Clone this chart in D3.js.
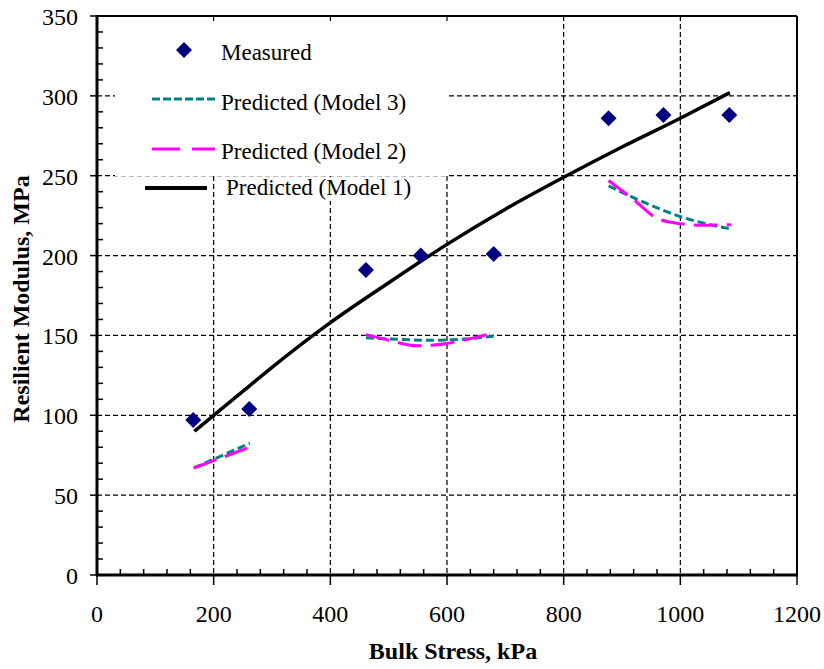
<!DOCTYPE html>
<html><head><meta charset="utf-8">
<script src="https://cdn.jsdelivr.net/npm/d3@7"></script>
<style>body{margin:0;background:#fff}svg{display:block}text{font-family:"Liberation Serif","Times New Roman",serif}</style>
</head><body>
<svg id="c" width="824" height="669"></svg>
<script>
// ---- data ----
const measuredX = [165, 261, 461, 555, 680, 877, 971, 1084];
const measuredY = [97, 104, 191, 200, 201, 286, 288, 288];

const model1X = [167, 200, 260, 300, 400, 500, 600, 700, 800, 900, 1000, 1085];
const model1Y = [90, 100, 118, 130, 158, 183, 207, 229, 249, 268, 286, 302];

// Model 3 (three load groups)
const model3Seg1X = [166, 262];
const model3Seg1Y = [67, 82.5];
const model3Seg2X = [461, 520, 570, 620, 680];
const model3Seg2Y = [148.5, 147.5, 147, 147.5, 149.5];
const model3Seg3X = [877, 948, 1000, 1087];
const model3Seg3Y = [243.6, 231.7, 224.4, 216.6];

// Model 2
const model2Seg1X = [166, 262];
const model2Seg1Y = [67, 80];
const model2Seg2X = [461, 500, 550, 600, 640, 680];
const model2Seg2Y = [150.5, 147, 143.5, 145, 148, 151.5];
const model2Seg3X = [877, 920, 962, 1000, 1040, 1087];
const model2Seg3Y = [247, 235, 223, 220, 219, 219.3];

const xTicks = [0, 200, 400, 600, 800, 1000, 1200];
const yTicks = [0, 50, 100, 150, 200, 250, 300, 350];
const legendLabels = ["Measured", "Predicted (Model 3)", "Predicted (Model 2)", "Predicted (Model 1)"];
const xTitle = "Bulk Stress, kPa";
const yTitle = "Resilient Modulus, MPa";

// ---- chart ----
const svg = d3.select("#c");
const x = d3.scaleLinear().domain([0, 1200]).range([97, 797]);
const y = d3.scaleLinear().domain([0, 350]).range([575, 16]);

const zip = (xs, ys) => xs.map((v, i) => [v, ys[i]]);
const line = d3.line().x(d => x(d[0])).y(d => y(d[1])).curve(d3.curveMonotoneX);

const grid = svg.append("g");
grid.selectAll("line.h").data(yTicks.filter(t => t > 0 && t < 350)).join("line")
  .attr("x1", x(0)).attr("x2", x(1200)).attr("y1", d => y(d)).attr("y2", d => y(d))
  .attr("stroke", "#000").attr("stroke-width", 1.2).attr("stroke-dasharray", "5,3");
grid.selectAll("line.v").data(xTicks.filter(t => t > 0 && t < 1200)).join("line")
  .attr("x1", d => x(d)).attr("x2", d => x(d)).attr("y1", y(350)).attr("y2", y(0))
  .attr("stroke", "#000").attr("stroke-width", 1.2).attr("stroke-dasharray", "5,3");

// legend background (covers gridlines)
svg.append("rect").attr("x", 115).attr("y", 22).attr("width", 333).attr("height", 154).attr("fill", "#fff");
svg.append("rect").attr("x", 215).attr("y", 177).attr("width", 205).attr("height", 24).attr("fill", "#fff");

// frame top/right
svg.append("line").attr("x1", x(0)).attr("x2", x(1200)).attr("y1", y(350)).attr("y2", y(350))
  .attr("stroke", "#000").attr("stroke-width", 2);
svg.append("line").attr("x1", x(1200)).attr("x2", x(1200)).attr("y1", y(350)).attr("y2", y(0))
  .attr("stroke", "#000").attr("stroke-width", 2);

// series lines
const teal = "#008080", magenta = "#ff00ff", navy = "#000080";
const m3 = [zip(model3Seg1X, model3Seg1Y), zip(model3Seg2X, model3Seg2Y), zip(model3Seg3X, model3Seg3Y)];
const m2 = [zip(model2Seg1X, model2Seg1Y), zip(model2Seg2X, model2Seg2Y), zip(model2Seg3X, model2Seg3Y)];
svg.append("g").selectAll("path").data(m3).join("path").attr("d", line)
  .attr("fill", "none").attr("stroke", teal).attr("stroke-width", 3).attr("stroke-dasharray", "8,4");
svg.append("g").selectAll("path").data(m2).join("path").attr("d", line)
  .attr("fill", "none").attr("stroke", magenta).attr("stroke-width", 3).attr("stroke-dasharray", "24,9");
svg.append("path").datum(zip(model1X, model1Y)).attr("d", line)
  .attr("fill", "none").attr("stroke", "#000").attr("stroke-width", 3.5);

// measured diamonds
const dia = (cx, cy, r) => `M${cx},${cy - r}L${cx + r},${cy}L${cx},${cy + r}L${cx - r},${cy}Z`;
svg.append("g").selectAll("path").data(zip(measuredX, measuredY)).join("path")
  .attr("d", d => dia(x(d[0]), y(d[1]), 8)).attr("fill", navy);

// axes
const xAxis = svg.append("g").attr("transform", `translate(0,${y(0)})`);
xAxis.append("line").attr("x1", x(0) - 1).attr("x2", x(1200) + 1).attr("stroke", "#000").attr("stroke-width", 3);
xAxis.selectAll("line.maj").data(xTicks).join("line").attr("class", "maj")
  .attr("x1", d => x(d)).attr("x2", d => x(d)).attr("y1", 0).attr("y2", 10)
  .attr("stroke", "#000").attr("stroke-width", 1.5);
xAxis.selectAll("line.min").data(d3.range(0, 1200, 40).filter(v => v % 200 !== 0)).join("line").attr("class", "min")
  .attr("x1", d => x(d)).attr("x2", d => x(d)).attr("y1", 0).attr("y2", -6)
  .attr("stroke", "#000").attr("stroke-width", 1.5);
xAxis.selectAll("text").data(xTicks).join("text")
  .attr("x", d => x(d)).attr("y", 47).attr("text-anchor", "middle")
  .attr("font-size", 24).text(d => d);

const yAxis = svg.append("g").attr("transform", `translate(${x(0)},0)`);
yAxis.append("line").attr("y1", y(0) + 1).attr("y2", y(350) - 1).attr("stroke", "#000").attr("stroke-width", 3);
yAxis.selectAll("line.maj").data(yTicks).join("line").attr("class", "maj")
  .attr("y1", d => y(d)).attr("y2", d => y(d)).attr("x1", 0).attr("x2", -7)
  .attr("stroke", "#000").attr("stroke-width", 1.5);
yAxis.selectAll("line.min").data(d3.range(0, 350, 10).filter(v => v % 50 !== 0)).join("line").attr("class", "min")
  .attr("y1", d => y(d)).attr("y2", d => y(d)).attr("x1", 0).attr("x2", 6)
  .attr("stroke", "#000").attr("stroke-width", 1.5);
yAxis.selectAll("text").data(yTicks).join("text")
  .attr("x", -19).attr("y", d => y(d) + 9).attr("text-anchor", "end")
  .attr("font-size", 24).text(d => d);

// titles
svg.append("text").attr("x", 453).attr("y", 659).attr("text-anchor", "middle")
  .attr("font-size", 24).attr("font-weight", "bold").text(xTitle);
svg.append("text").attr("transform", "translate(29,299) rotate(-90)").attr("text-anchor", "middle")
  .attr("font-size", 24).attr("font-weight", "bold").text(yTitle);

// legend
const lg = svg.append("g");
lg.append("path").attr("d", dia(184, 50, 8)).attr("fill", navy);
lg.append("line").attr("x1", 152).attr("x2", 216).attr("y1", 99).attr("y2", 99)
  .attr("stroke", teal).attr("stroke-width", 3).attr("stroke-dasharray", "8,3");
lg.append("line").attr("x1", 152).attr("x2", 215).attr("y1", 149).attr("y2", 149)
  .attr("stroke", magenta).attr("stroke-width", 3).attr("stroke-dasharray", "28,12");
lg.append("line").attr("x1", 145).attr("x2", 207).attr("y1", 188).attr("y2", 188)
  .attr("stroke", "#000").attr("stroke-width", 4);
const lgPos = [[221, 60], [221, 110], [221, 159], [226, 195]];
lg.selectAll("text").data(legendLabels).join("text")
  .attr("x", (d, i) => lgPos[i][0]).attr("y", (d, i) => lgPos[i][1])
  .attr("font-size", 23).text(d => d);
</script>
</body></html>
